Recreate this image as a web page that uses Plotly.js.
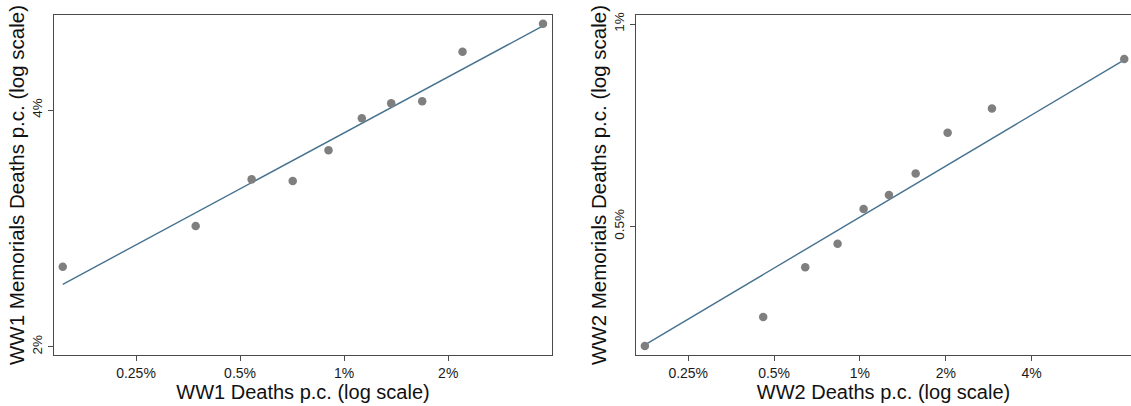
<!DOCTYPE html>
<html>
<head>
<meta charset="utf-8">
<script src="https://cdn.plot.ly/plotly-3.0.1.min.js"></script>
<style>
  html, body { margin: 0; padding: 0; background: #fff; }
  #chart { width: 1131px; height: 406px; }
</style>
</head>
<body>
<div id="chart"></div>
<script>
// ---- Data (percent values) ----
const ww1Deaths    = [0.1535, 0.372, 0.540, 0.710, 0.901, 1.125, 1.368, 1.682, 2.200, 3.760];
const ww1Memorials = [2.528, 2.848, 3.265, 3.249, 3.555, 3.904, 4.079, 4.104, 4.745, 5.150];
const ww1FitX = [0.1535, 3.760];
const ww1FitY = [2.401, 5.119];

const ww2Deaths    = [0.1762, 0.458, 0.643, 0.835, 1.030, 1.264, 1.568, 2.030, 2.903, 8.448];
const ww2Memorials = [0.3318, 0.3665, 0.4346, 0.4712, 0.5306, 0.5567, 0.5993, 0.6888, 0.7485, 0.8871];
const ww2FitX = [0.1762, 8.448];
const ww2FitY = [0.3331, 0.8842];

const ww1XTicks = [0.25, 0.5, 1, 2];
const ww1XTickText = ['0.25%', '0.5%', '1%', '2%'];
const ww1YTicks = [2, 4];
const ww1YTickText = ['2%', '4%'];
const ww2XTicks = [0.25, 0.5, 1, 2, 4];
const ww2XTickText = ['0.25%', '0.5%', '1%', '2%', '4%'];
const ww2YTicks = [0.5, 1];
const ww2YTickText = ['0.5%', '1%'];

const ww1XTitle = 'WW1 Deaths p.c. (log scale)';
const ww1YTitle = 'WW1 Memorials Deaths p.c. (log scale)';
const ww2XTitle = 'WW2 Deaths p.c. (log scale)';
const ww2YTitle = 'WW2 Memorials Deaths p.c. (log scale)';

// ---- Styles ----
const dotColor = '#7f7f7f';
const lineColor = '#46728f';
const frameColor = '#4a4a4a';
const fontFam = '"Liberation Sans", Arial, sans-serif';

const traces = [
  { x: ww1FitX, y: ww1FitY, type: 'scatter', mode: 'lines', xaxis: 'x', yaxis: 'y',
    line: { color: lineColor, width: 1.4 }, hoverinfo: 'skip' },
  { x: ww1Deaths, y: ww1Memorials, type: 'scatter', mode: 'markers', xaxis: 'x', yaxis: 'y',
    marker: { color: dotColor, size: 8.5 } },
  { x: ww2FitX, y: ww2FitY, type: 'scatter', mode: 'lines', xaxis: 'x2', yaxis: 'y2',
    line: { color: lineColor, width: 1.4 }, hoverinfo: 'skip' },
  { x: ww2Deaths, y: ww2Memorials, type: 'scatter', mode: 'markers', xaxis: 'x2', yaxis: 'y2',
    marker: { color: dotColor, size: 8.5 } }
];

function xAxis(domain, range, vals, text, title, anchor) {
  return {
    type: 'log', domain: domain, range: range, anchor: anchor,
    tickvals: vals, ticktext: text, ticks: 'outside', ticklen: 5, tickwidth: 1,
    tickcolor: frameColor, showgrid: false, zeroline: false,
    showline: true, mirror: true, linecolor: frameColor, linewidth: 1.4,
    tickfont: { family: fontFam, size: 14, color: '#1a1a1a' },
    title: { text: title, font: { family: fontFam, size: 20, color: '#111' }, standoff: 0 },
    automargin: false, fixedrange: true
  };
}
function yAxis(domain, range, vals, text, title, anchor) {
  return {
    type: 'log', domain: domain, range: range, anchor: anchor,
    tickvals: vals, ticktext: text, ticks: 'outside', ticklen: 5, tickwidth: 1,
    tickcolor: frameColor, showgrid: false, zeroline: false,
    showline: true, mirror: true, linecolor: frameColor, linewidth: 1.4,
    tickangle: -90,
    tickfont: { family: fontFam, size: 13.5, color: '#1a1a1a' },
    title: { text: title, font: { family: fontFam, size: 20.5, color: '#111' }, standoff: 0 },
    automargin: false, fixedrange: true
  };
}

const W = 1131, H = 406;
const yDom = [(H - 355) / H, (H - 15) / H];

const layout = {
  width: W, height: H,
  margin: { l: 0, r: 0, t: 0, b: 0 },
  paper_bgcolor: '#fff', plot_bgcolor: '#fff',
  showlegend: false,
  font: { family: fontFam },
  xaxis: xAxis([54 / W, 552 / W], [Math.log10(0.1448), Math.log10(3.992)], ww1XTicks, ww1XTickText, ww1XTitle, 'y'),
  yaxis: yAxis(yDom, [Math.log10(1.952), Math.log10(5.284)], ww1YTicks, ww1YTickText, ww1YTitle, 'x'),
  xaxis2: xAxis([636 / W, 1], [Math.log10(0.1640), Math.log10(8.92)], ww2XTicks, ww2XTickText, ww2XTitle, 'y2'),
  yaxis2: yAxis(yDom, [Math.log10(0.3218), Math.log10(1.0313)], ww2YTicks, ww2YTickText, ww2YTitle, 'x2')
};

Plotly.newPlot('chart', traces, layout, { displayModeBar: false, staticPlot: true });
</script>
</body>
</html>
